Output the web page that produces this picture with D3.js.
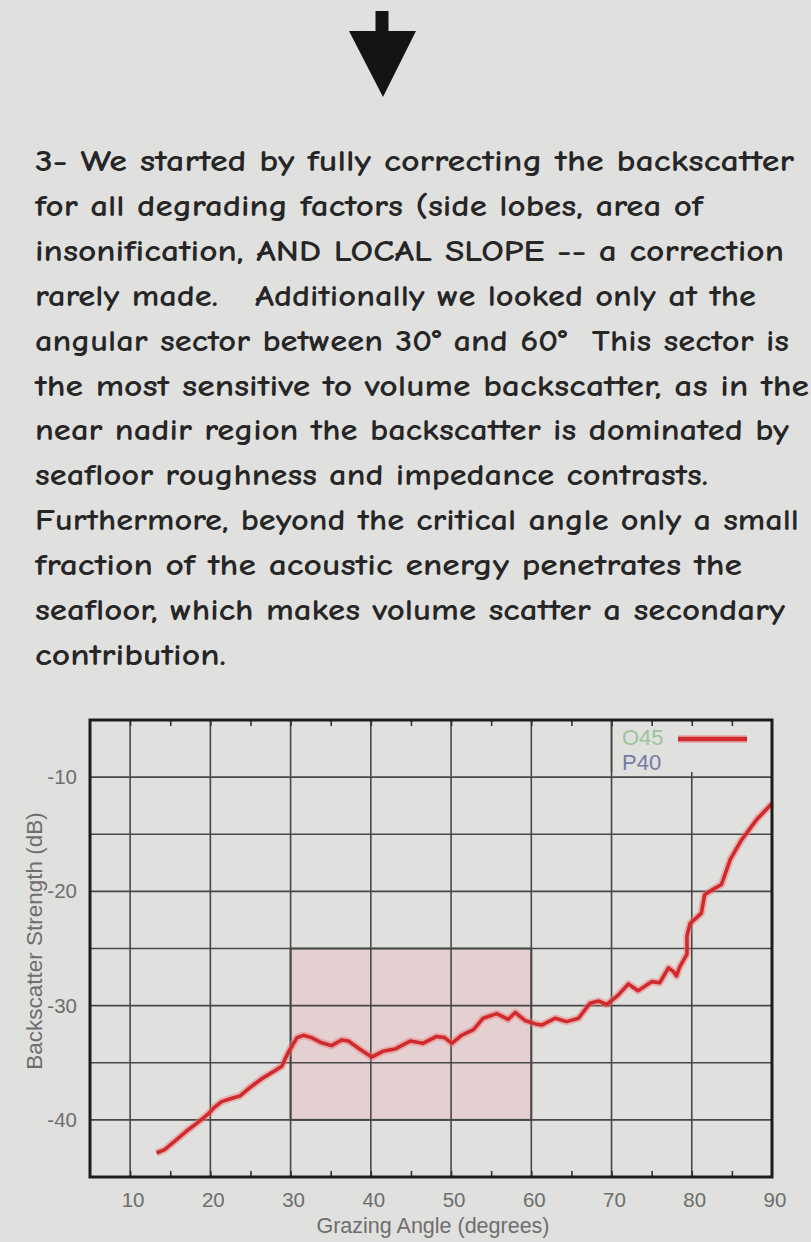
<!DOCTYPE html>
<html>
<head>
<meta charset="utf-8">
<script src="https://cdn.jsdelivr.net/npm/d3@7"></script>
<style>
  html, body { margin: 0; padding: 0; background: #e0e0de; }
  svg { display: block; }
  .body-text { white-space: pre; }
</style>
</head>
<body>
<svg id="chart" width="811" height="1242"></svg>
<script>
// ---------- data ----------
const paragraphLines = [
  "3- We started by fully correcting the backscatter",
  "for all degrading factors (side lobes, area of",
  "insonification, AND LOCAL SLOPE -- a correction",
  "rarely made.   Additionally we looked only at the",
  "angular sector between 30\u00B0 and 60\u00B0  This sector is",
  "the most sensitive to volume backscatter, as in the",
  "near nadir region the backscatter is dominated by",
  "seafloor roughness and impedance contrasts.",
  "Furthermore, beyond the critical angle only a small",
  "fraction of the acoustic energy penetrates the",
  "seafloor, which makes volume scatter a secondary",
  "contribution."
];
const lineWidths = [759, 668, 749, 721, 754, 774, 754, 673, 764, 707, 750, 191];

const angles = [13.3, 14.3, 15.5, 17.0, 18.5, 19.7, 20.5, 21.4, 22.7, 23.7, 24.7, 26.4, 27.8, 28.9, 29.7,
  30.8, 31.6, 32.6, 33.7, 35.1, 36.4, 37.2, 38.6, 40.1, 41.5, 43.0, 44.9, 46.5, 48.2, 49.2, 50.1,
  51.3, 52.8, 54.0, 55.7, 57.1, 58.0, 59.2, 60.5, 61.3, 63.0, 64.4, 65.9, 67.3, 68.4, 69.4, 70.8,
  72.1, 73.3, 75.0, 76.0, 77.1, 77.7, 78.1, 78.5, 79.4, 79.4, 79.8, 80.6, 81.2, 81.6, 82.7, 83.7,
  84.8, 86.2, 88.1, 90.0];
const strength = [-42.9, -42.6, -41.9, -41.0, -40.2, -39.5, -38.9, -38.4, -38.1, -37.9, -37.3, -36.4, -35.8, -35.3, -34.1,
  -32.8, -32.6, -32.8, -33.2, -33.5, -33.0, -33.1, -33.8, -34.5, -34.0, -33.8, -33.1, -33.3, -32.7, -32.8, -33.3,
  -32.6, -32.1, -31.1, -30.7, -31.2, -30.6, -31.3, -31.6, -31.7, -31.1, -31.4, -31.1, -29.8, -29.6, -29.9, -29.1,
  -28.1, -28.7, -27.9, -28.0, -26.7, -27.0, -27.4, -26.6, -25.5, -23.9, -22.8, -22.3, -21.9, -20.3, -19.8, -19.4,
  -17.2, -15.5, -13.7, -12.3];

const xTickLabels = [10, 20, 30, 40, 50, 60, 70, 80, 90];
const yTickLabels = [-40, -30, -20, -10];
const xGridValues = [10, 20, 30, 40, 50, 60, 70, 80];
const yGridValues = [-40, -35, -30, -25, -20, -15, -10];
const xMinorTicks = [10, 15, 20, 25, 30, 35, 40, 45, 50, 55, 60, 65, 70, 75, 80, 85];
const sectorAngles = [30, 60];
const sectorStrength = [-40, -25];
const legendNames = ["O45", "P40"];
const xTitle = "Grazing Angle (degrees)";
const yTitle = "Backscatter Strength (dB)";

// ---------- drawing ----------
const svg = d3.select("#chart");
const BG = "#e0e0de";
svg.append("rect").attr("width", 811).attr("height", 1242).attr("fill", BG);

// Arrow
svg.append("rect").attr("x", 375.5).attr("y", 11).attr("width", 13).attr("height", 21).attr("fill", "#141414");
svg.append("path").attr("d", "M349,31 L416,31 L383,97 Z").attr("fill", "#141414");

// Paragraph
const tg = svg.append("g");
paragraphLines.forEach((t, i) => {
  tg.append("text")
    .attr("class", "body-text")
    .attr("x", 35)
    .attr("y", 171 + i * 44.9)
    .attr("textLength", lineWidths[i])
    .attr("lengthAdjust", "spacingAndGlyphs")
    .attr("font-family", "'Comic Sans MS', 'Comic Neue', 'DejaVu Sans', sans-serif")
    .attr("font-size", 31)
    .attr("font-weight", "bold")
    .attr("fill", "#262626")
    .text(t);
});

// Chart
const L = 90, R = 772, T = 720, B = 1177;
const x = d3.scaleLinear().domain([5, 90]).range([L, R]);
const y = d3.scaleLinear().domain([-45, -5]).range([B, T]);

// sector box
svg.append("rect")
  .attr("x", x(sectorAngles[0])).attr("y", y(sectorStrength[1]))
  .attr("width", x(sectorAngles[1]) - x(sectorAngles[0]))
  .attr("height", y(sectorStrength[0]) - y(sectorStrength[1]))
  .attr("fill", "#e4cfd1").attr("stroke", "#555").attr("stroke-width", 2);

// grid
const grid = svg.append("g").attr("stroke", "#484848").attr("stroke-width", 1.6);
grid.selectAll("line.v").data(xGridValues).join("line")
  .attr("x1", d => x(d)).attr("x2", d => x(d)).attr("y1", T).attr("y2", B);
grid.selectAll("line.h").data(yGridValues).join("line")
  .attr("class", "h")
  .attr("x1", L).attr("x2", R).attr("y1", d => y(d)).attr("y2", d => y(d));

// legend box (opaque)
svg.append("rect").attr("x", 614).attr("y", T + 1).attr("width", R - 614 - 1).attr("height", 51).attr("fill", BG);
svg.append("line").attr("x1", x(70)).attr("x2", x(70)).attr("y1", T).attr("y2", T + 52)
  .attr("stroke", "#484848").attr("stroke-width", 1.6);

// data line with soft halo
const line = d3.line().x((d, i) => x(angles[i])).y((d, i) => y(strength[i]));
svg.append("path").datum(strength).attr("d", line)
  .attr("fill", "none").attr("stroke", "rgba(232,120,120,0.45)").attr("stroke-width", 7.5)
  .attr("stroke-linejoin", "round");
svg.append("path").datum(strength).attr("d", line)
  .attr("fill", "none").attr("stroke", "#d02a2c").attr("stroke-width", 3.6)
  .attr("stroke-linejoin", "round");

// minor/major ticks top & bottom (inward)
const tickBottom = svg.append("g").attr("transform", `translate(0,${B})`)
  .call(d3.axisTop(x).tickValues(xMinorTicks).tickSize(6).tickFormat(""));
const tickTop = svg.append("g").attr("transform", `translate(0,${T})`)
  .call(d3.axisBottom(x).tickValues(xMinorTicks).tickSize(6).tickFormat(""));
[tickBottom, tickTop].forEach(g => {
  g.select(".domain").remove();
  g.selectAll("line").attr("stroke", "#333").attr("stroke-width", 1.6);
});

// frame
svg.append("rect").attr("x", L).attr("y", T).attr("width", R - L).attr("height", B - T)
  .attr("fill", "none").attr("stroke", "#1c1c1c").attr("stroke-width", 3);

// axis labels
const labelFont = "'Liberation Sans', Arial, sans-serif";
const xAxis = svg.append("g").attr("transform", `translate(2.5,${B})`)
  .call(d3.axisBottom(x).tickValues(xTickLabels).tickSize(0).tickPadding(15).tickFormat(d => String(d)));
const yAxis = svg.append("g").attr("transform", `translate(${L},0)`)
  .call(d3.axisLeft(y).tickValues(yTickLabels).tickSize(0).tickPadding(13).tickFormat(d => String(d)));
[xAxis, yAxis].forEach(g => {
  g.select(".domain").remove();
  g.selectAll("text").attr("font-family", labelFont).attr("font-size", 20.5).attr("fill", "#6e6e6e");
});

svg.append("text").attr("x", (L + R) / 2 + 2).attr("y", 1233)
  .attr("text-anchor", "middle").attr("font-family", labelFont).attr("font-size", 21.5)
  .attr("fill", "#6e6e6e").text(xTitle);
svg.append("text").attr("transform", `translate(42,${941}) rotate(-90)`)
  .attr("text-anchor", "middle").attr("font-family", labelFont).attr("font-size", 22.5)
  .attr("fill", "#6e6e6e").text(yTitle);

// legend
svg.append("text").attr("x", 622).attr("y", 745).attr("font-family", labelFont).attr("font-size", 22)
  .attr("fill", "#9cc49c").text(legendNames[0]);
svg.append("text").attr("x", 622).attr("y", 770).attr("font-family", labelFont).attr("font-size", 22)
  .attr("fill", "#767ba4").text(legendNames[1]);
svg.append("line").attr("x1", 678).attr("x2", 747).attr("y1", 739).attr("y2", 739)
  .attr("stroke", "rgba(232,120,120,0.45)").attr("stroke-width", 8);
svg.append("line").attr("x1", 678).attr("x2", 747).attr("y1", 739).attr("y2", 739)
  .attr("stroke", "#d02a2c").attr("stroke-width", 4.5);
</script>
</body>
</html>
